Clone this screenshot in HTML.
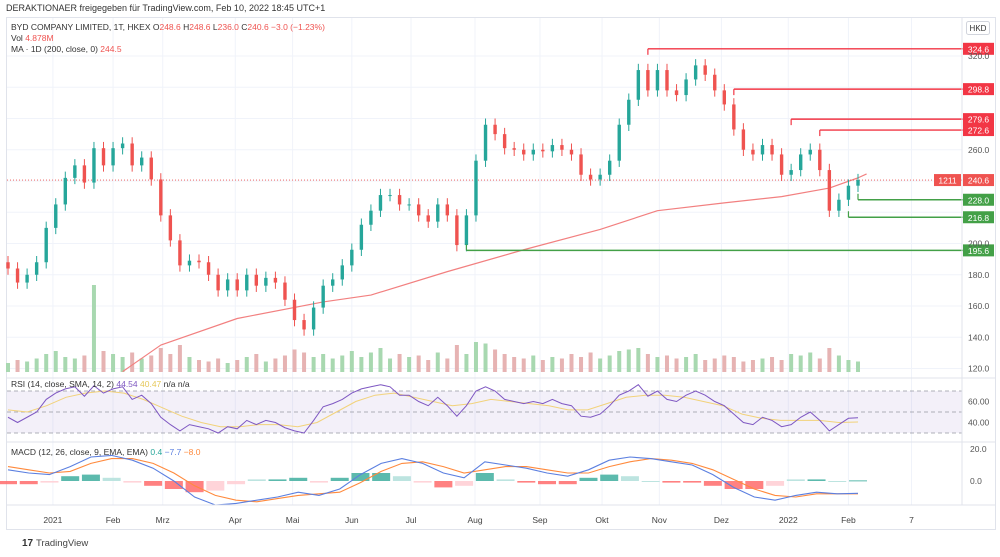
<!DOCTYPE html>
<html><head><meta charset="utf-8"><style>
body{margin:0;background:#fff;font-family:"Liberation Sans",sans-serif;}
svg text{font-family:"Liberation Sans",sans-serif;}
</style></head><body>
<svg id="c" width="1000" height="552" viewBox="0 0 1000 552" xmlns="http://www.w3.org/2000/svg">
<rect x="0" y="0" width="1000" height="552" fill="#fff"/>
<text x="6" y="11" font-size="9" fill="#333">DERAKTIONAER freigegeben für TradingView.com, Feb 10, 2022 18:45 UTC+1</text>
<rect x="6.5" y="17.5" width="989" height="512" fill="none" stroke="#e0e3eb"/>
<g id="grid"></g>
<g id="vol"></g>
<g id="ma"></g>
<g id="candles"></g>
<g id="levels"></g>
<g id="rsi"></g>
<g id="macd"></g>
<g id="axes"></g>
<text x="11" y="30" font-size="8.5" fill="#333">BYD COMPANY LIMITED, 1T, HKEX  O<tspan fill="#ef5350">248.6</tspan>  H<tspan fill="#ef5350">248.6</tspan>  L<tspan fill="#ef5350">236.0</tspan>  C<tspan fill="#ef5350">240.6  −3.0 (−1.23%)</tspan></text>
<text x="11" y="41" font-size="8.5" fill="#333">Vol  <tspan fill="#ef5350">4.878M</tspan></text>
<text x="11" y="52" font-size="8.5" fill="#333">MA · 1D (200, close, 0)  <tspan fill="#ef5350">244.5</tspan></text>
<text x="11" y="387" font-size="8.5" fill="#333">RSI (14, close, SMA, 14, 2)  <tspan fill="#7e57c2">44.54</tspan>  <tspan fill="#e6c85a">40.47</tspan>  n/a  n/a</text>
<text x="11" y="455" font-size="8.5" fill="#333">MACD (12, 26, close, 9, EMA, EMA)  <tspan fill="#26a69a">0.4</tspan>  <tspan fill="#5b7fe0">−7.7</tspan>  <tspan fill="#ff8a3d">−8.0</tspan></text>
<rect x="966.5" y="21.5" width="23" height="13" rx="2" fill="#fff" stroke="#d1d4dc"/>
<text x="978" y="31" font-size="8" fill="#333" text-anchor="middle">HKD</text>
<text x="22" y="546" font-size="10" fill="#333" font-weight="bold">17</text>
<text x="36" y="546" font-size="9.5" fill="#444">TradingView</text>
</svg>
<script>
const closes=[184,175,180,188,210,225,242,250,239,261,250,261,264,250,255,241,218,202,186,189,188,180,170,177,170,180,173,178,175,164,151,145,159,173,177,186,196,212,221,231,231,225,225,218,214,225,218,199,218,253,276,270,261,260,257,260,259,263,260,257,244,241,244,253,276,292,311,298,311,298,295,305,314,308,298,289,273,260,257,263,257,244,247,257,260,247,221,228,237,240.6];
const volumes=[6,8,7,9,12,14,10,9,11,58,14,12,10,13,9,11,16,12,18,10,8,7,9,6,8,10,12,7,9,11,15,13,10,12,9,11,14,10,13,16,9,12,10,11,8,13,9,18,12,20,19,15,12,10,9,11,8,10,9,12,10,13,9,11,14,15,16,12,10,11,9,10,12,8,9,11,10,7,8,9,10,8,12,11,13,9,16,11,8,7];
const rsiVals=[45,40,45,50,62,68,72,74,65,75,68,72,74,62,66,58,45,38,32,38,36,34,30,36,34,42,38,42,40,35,32,30,42,55,58,62,68,72,74,76,74,66,66,60,56,64,56,46,56,70,74,70,62,60,58,60,58,62,58,56,46,45,48,56,66,70,76,65,70,62,60,66,70,66,60,56,48,40,38,45,42,36,38,45,50,42,32,38,44,44.5];
const rsiSma=[52,50,56,64,68,70,68,62,54,46,40,36,36,38,38,36,40,50,60,66,68,64,60,56,58,62,60,58,56,52,52,58,64,66,66,64,60,56,48,44,42,42,42,40,40.5];
const macdLine=[7,5,4,9,15,16,13,8,0,-10,-15,-14,-12,-10,-7,-9,-5,4,11,14,11,5,2,12,10,8,5,3,7,13,15,14,12,10,4,-4,-10,-12,-9,-7,-8,-7.7];
const signalLine=[9,7,5,6,11,14,14,11,5,-3,-9,-12,-13,-11,-9,-8,-7,-1,6,11,12,9,5,7,9,9,7,5,5,9,12,14,13,11,7,1,-5,-9,-10,-8,-8,-8];
const macdHist=[-2,-2,-1,3,4,2,-1,-3,-5,-7,-6,-2,1,1,2,-1,2,5,5,3,-1,-4,-3,5,1,-1,-2,-2,2,4,3,0,-1,-1,-3,-5,-5,-3,1,1,0,0.4];
const maPrices=[118,135,152,162.6,167,182,196,209,221,226,230,235.5,242,244.5];
const maIdx=[12,16,24,33,38,46,54,62,68,75,81,86,89,89.9];
const levelPrices=[324.6,298.8,279.6,272.6,228.0,216.8,195.6];
const levelStart=[67,76,82,85,89,88,48];
const levelUp=[1,1,1,1,0,0,0];
const priceTicks=[320,260,200,180,160,140,120];
const monthLabels=["2021","Feb","Mrz","Apr","Mai","Jun","Jul","Aug","Sep","Okt","Nov","Dez","2022","Feb","7"];
const monthIdx=[4.7,11,16.2,23.8,29.8,36,42.2,48.9,55.7,62.2,68.2,74.7,81.7,88,94.6];
const rsiTicks=[60,40];const macdTicks=[20,0];

const NS="http://www.w3.org/2000/svg";
const X0=8,X1=858,N=closes.length;
const xs=i=>X0+i*(X1-X0)/(N-1);
const yP=p=>56+(320-p)*1.5625;
const yR=v=>433-(v-30)*(42/40);
const yM=v=>481-v*1.6;
function mk(g,t,a){const e=document.createElementNS(NS,t);for(const k in a)e.setAttribute(k,a[k]);document.getElementById(g).appendChild(e);return e;}
const UP="#26a69a",DN="#ef5350";
monthIdx.forEach((m,i)=>{const l=mk('grid','line',{x1:xs(m),x2:xs(m),y1:18,y2:505,stroke:'#f0f3fa'});

});
priceTicks.concat([280,300,240,220]).forEach(p=>{const l=mk('grid','line',{x1:7,x2:962,y1:yP(p),y2:yP(p),stroke:'#f0f3fa'});

});
[[378],[442],[505]].forEach(a=>{const l=mk('axes','line',{x1:7,x2:995,y1:a[0],y2:a[0],stroke:'#e0e3eb'});

});
{const l=mk('axes','line',{x1:962,x2:962,y1:18,y2:505,stroke:'#e0e3eb'});

}
volumes.forEach((v,i)=>{const up=i==0||closes[i]>=closes[i-1];const h=v*1.5;
const r=mk('vol','rect',{x:xs(i)-2,y:372-h,width:4,height:h,fill:up?'#a8d8b0':'#e6b3b3'});

});
{const pts=maPrices.map((p,i)=>xs(maIdx[i])+','+yP(p)).join(' ');
const l=mk('ma','polyline',{points:pts,fill:'none',stroke:'#f28080','stroke-width':1.2,'stroke-linejoin':'round'});

}
{const l=mk('ma','line',{x1:7,x2:962,y1:yP(240.6),y2:yP(240.6),stroke:'#ef5350','stroke-dasharray':'1 2','stroke-width':0.8});

}
closes.forEach((c,i)=>{const o=i==0?c+4:closes[i-1];const up=c>=o;const col=up?UP:DN;
const hi=Math.max(o,c)+4,lo=Math.min(o,c)-4;
const w=mk('candles','line',{x1:xs(i),x2:xs(i),y1:yP(hi),y2:yP(lo),stroke:col,'stroke-width':1});


const top=yP(Math.max(o,c)),bh=Math.max(1,yP(Math.min(o,c))-top);
const b=mk('candles','rect',{x:xs(i)-1.7,y:top,width:3.4,height:bh,fill:col});

});
levelPrices.forEach((p,i)=>{const col=levelUp[i]?'#f23645':'#43a047';const y=yP(p);const x=xs(levelStart[i]);
const v=mk('levels','line',{x1:x,x2:x,y1:y,y2:y+(levelUp[i]?6:-6),stroke:col,'stroke-width':1.2});


const l=mk('levels','line',{x1:x,x2:963,y1:y,y2:y,stroke:col,'stroke-width':1.4});


const r=mk('levels','rect',{x:963,y:y-6,width:31,height:12,fill:col});


const t=mk('levels','text',{x:978.5,y:y+3.5,'font-size':8.5,fill:'#fff','text-anchor':'middle'});t.textContent=p.toFixed(1);

});
{const y=yP(240.6);const r=mk('levels','rect',{x:963,y:y-6,width:31,height:12,fill:'#ef5350'});


const t=mk('levels','text',{x:978.5,y:y+3.5,'font-size':8.5,fill:'#fff','text-anchor':'middle'});t.textContent='240.6';


const r2=mk('levels','rect',{x:934,y:y-6,width:27,height:12,fill:'#ef5350'});


const t2=mk('levels','text',{x:947.5,y:y+3.5,'font-size':8.5,fill:'#fff','text-anchor':'middle'});t2.textContent='1211';

}
priceTicks.forEach(p=>{const t=mk('axes','text',{x:968,y:yP(p)+3,'font-size':8.5,fill:'#555'});t.textContent=p.toFixed(1);

});
{const r=mk('rsi','rect',{x:7,y:yR(70),width:955,height:yR(30)-yR(70),fill:'rgba(126,87,194,0.09)'});


[70,50,30].forEach(v=>{const l=mk('rsi','line',{x1:7,x2:962,y1:yR(v),y2:yR(v),stroke:'#9598a1','stroke-dasharray':'4 3','stroke-width':0.8});

});
const sp=rsiSma.map((v,i)=>(X0+i*(X1-X0)/(rsiSma.length-1))+','+yR(v)).join(' ');
const s=mk('rsi','polyline',{points:sp,fill:'none',stroke:'#f2d27a','stroke-width':1});


const pts=rsiVals.map((v,i)=>(X0+i*(X1-X0)/(rsiVals.length-1))+','+yR(v)).join(' ');
const l=mk('rsi','polyline',{points:pts,fill:'none',stroke:'#7e57c2','stroke-width':1});


rsiTicks.forEach(v=>{const t=mk('axes','text',{x:968,y:yR(v)+3,'font-size':8.5,fill:'#555'});t.textContent=v.toFixed(2);

});}
{const hx=i=>X0+i*(X1-X0)/(macdHist.length-1);
macdHist.forEach((v,i)=>{const prev=i?macdHist[i-1]:0;const pos=v>=0;const grow=Math.abs(v)>=Math.abs(prev);
const col=pos?(grow?'#3fae9f':'#b2dfdb'):(grow?'#ff6b6b':'#ffcdd2');
const y=Math.min(yM(0),yM(v));const h=Math.max(1,Math.abs(yM(v)-yM(0)));
const r=mk('macd','rect',{x:hx(i)-9,y:y,width:18,height:h,fill:col,opacity:0.85});

});
const mx=i=>X0+i*(X1-X0)/(macdLine.length-1);
const sx=i=>X0+i*(X1-X0)/(signalLine.length-1);
const s=mk('macd','polyline',{points:signalLine.map((v,i)=>sx(i)+','+yM(v)).join(' '),fill:'none',stroke:'#ff8a3d','stroke-width':1.1});


const l=mk('macd','polyline',{points:macdLine.map((v,i)=>mx(i)+','+yM(v)).join(' '),fill:'none',stroke:'#5b7fe0','stroke-width':1.1});


macdTicks.forEach(v=>{const t=mk('axes','text',{x:970,y:yM(v)+3,'font-size':8.5,fill:'#555'});t.textContent=v.toFixed(1);

});}
monthLabels.forEach((m,i)=>{const t=mk('axes','text',{x:xs(monthIdx[i]),y:523,'font-size':8.5,fill:'#444','text-anchor':'middle'});t.textContent=m;

});
</script>
</body></html>
